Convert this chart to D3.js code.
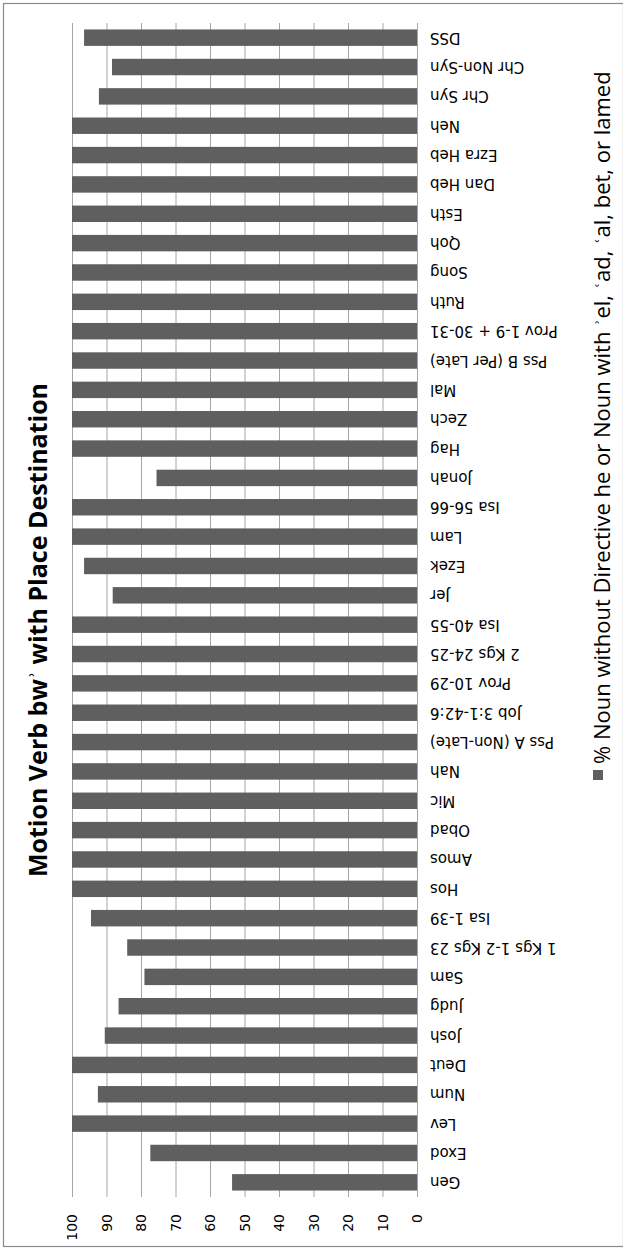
<!DOCTYPE html>
<html>
<head>
<meta charset="utf-8">
<script src="https://cdn.jsdelivr.net/npm/d3@7"></script>
<style>
  body { margin: 0; background: #fff; }
  svg { display: block; }
</style>
</head>
<body>
<div id="chart"></div>
<script>
// chart data (category order as in the original, Gen at the bottom)
const categories = [
  "Gen", "Exod", "Lev", "Num", "Deut", "Josh", "Judg", "Sam",
  "1 Kgs 1-2 Kgs 23", "Isa 1-39", "Hos", "Amos", "Obad", "Mic", "Nah",
  "Pss A (Non-Late)", "Job 3:1-42:6", "Prov 10-29", "2 Kgs 24-25", "Isa 40-55",
  "Jer", "Ezek", "Lam", "Isa 56-66", "Jonah", "Hag", "Zech", "Mal",
  "Pss B (Per Late)", "Prov 1-9 + 30-31", "Ruth", "Song", "Qoh", "Esth",
  "Dan Heb", "Ezra Heb", "Neh", "Chr Syn", "Chr Non-Syn", "DSS"
];
const percentValues = [
  53.6, 77.3, 100, 92.5, 100, 90.5, 86.5, 79, 84, 94.5,
  100, 100, 100, 100, 100, 100, 100, 100, 100, 100,
  88.2, 96.5, 100, 100, 75.5, 100, 100, 100, 100, 100,
  100, 100, 100, 100, 100, 100, 100, 92.2, 88.4, 96.5
];
const tickValues = [0, 10, 20, 30, 40, 50, 60, 70, 80, 90, 100];
const chartTitle = "Motion Verb bw\u02BE with Place Destination";
const seriesName = "% Noun without Directive he or Noun with \u02BEel, \u02BFad, \u02BFal, bet, or lamed";

const W = 623, H = 1249;
const plot = { left: 72, right: 417, top: 23, bottom: 1197 };

const svg = d3.select("#chart")
  .append("svg")
  .attr("width", W)
  .attr("height", H);

// outer frame
svg.append("rect")
  .attr("x", 3.5).attr("y", 3.5)
  .attr("width", W - 3).attr("height", H - 6)
  .attr("fill", "none")
  .attr("stroke", "#8a8a8a")
  .attr("stroke-width", 1.2);

const x = d3.scaleLinear()
  .domain([0, 100])
  .range([plot.right, plot.left]);

const y = d3.scaleBand()
  .domain(categories)
  .range([plot.bottom, plot.top])
  .paddingInner(0.44)
  .paddingOuter(0.22);

// gridlines
svg.append("g")
  .selectAll("line")
  .data(tickValues)
  .join("line")
  .attr("x1", d => x(d) + 0.5)
  .attr("x2", d => x(d) + 0.5)
  .attr("y1", plot.top)
  .attr("y2", plot.bottom)
  .attr("stroke", "#a6a6a6")
  .attr("stroke-width", 1);

// bars
svg.append("g")
  .attr("fill", "#5f5f5f")
  .selectAll("rect")
  .data(categories.map((c, i) => ({ c, v: percentValues[i] })))
  .join("rect")
  .attr("x", d => x(d.v))
  .attr("y", d => y(d.c))
  .attr("width", d => x(0) - x(d.v))
  .attr("height", y.bandwidth());

// value axis labels (rotated)
svg.append("g")
  .selectAll("text")
  .data(tickValues)
  .join("text")
  .attr("transform", d => `translate(${x(d) + 5},1214) rotate(-90)`)
  .attr("text-anchor", "end")
  .attr("font-family", "DejaVu Sans")
  .attr("font-size", 14)
  .attr("fill", "#000")
  .text(d => d);

// category labels (upside down)
svg.append("g")
  .selectAll("text")
  .data(categories)
  .join("text")
  .attr("transform", d => `translate(430,${y(d) + y.bandwidth() / 2}) rotate(180)`)
  .attr("text-anchor", "end")
  .attr("dominant-baseline", "central")
  .attr("font-family", "DejaVu Sans")
  .attr("font-size", 15)
  .attr("fill", "#000")
  .text(d => d);

// title
svg.append("text")
  .attr("transform", "translate(47,630) rotate(-90)")
  .attr("text-anchor", "middle")
  .attr("font-family", "Open Sans")
  .attr("font-weight", "bold")
  .attr("font-size", 25)
  .attr("fill", "#000")
  .text(chartTitle);

// legend
const legend = svg.append("g").attr("transform", "translate(593,780)");
legend.append("rect")
  .attr("x", 0).attr("y", -10)
  .attr("width", 10).attr("height", 10)
  .attr("fill", "#5f5f5f");
legend.append("text")
  .attr("transform", "translate(17,-16) rotate(-90)")
  .attr("text-anchor", "start")
  .attr("font-family", "Open Sans")
  .attr("font-size", 22)
  .attr("fill", "#000")
  .text(seriesName);
</script>
</body>
</html>
